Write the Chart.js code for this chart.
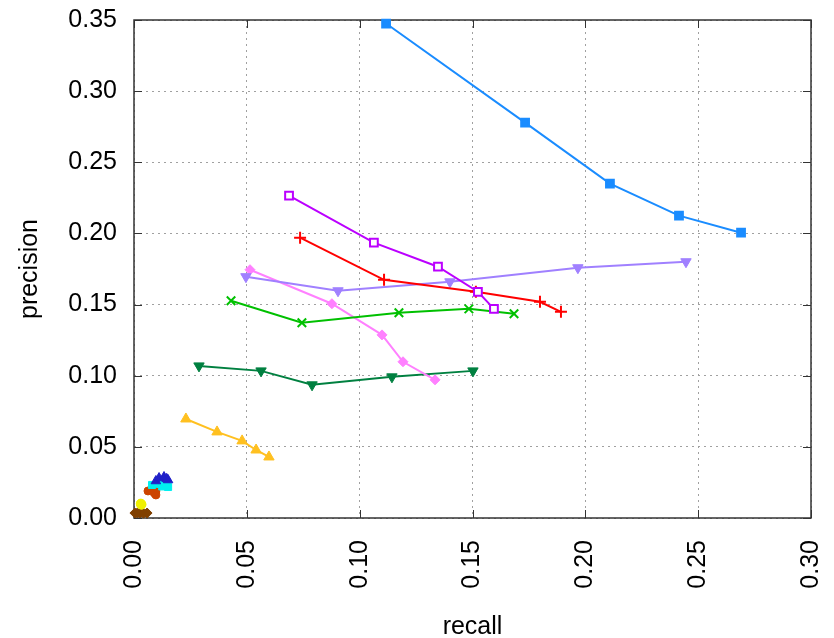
<!DOCTYPE html>
<html>
<head>
<meta charset="utf-8">
<script src="https://cdn.jsdelivr.net/npm/chart.js@4/dist/chart.umd.min.js"></script>
<style>
  html, body { margin: 0; padding: 0; background: #fff; }
  #wrap { width: 834px; height: 638px; }
</style>
</head>
<body>
<div id="wrap"><canvas id="myChart" width="834" height="638"></canvas></div>
<script>
// tick labels
var xTicks = [0.00, 0.05, 0.10, 0.15, 0.20, 0.25, 0.30];
var yTicks = [0.00, 0.05, 0.10, 0.15, 0.20, 0.25, 0.30, 0.35];

// series values (recall, precision)
var blueRecall = [0.1117, 0.1733, 0.2109, 0.2415, 0.2690];
var bluePrecision = [0.3475, 0.2779, 0.2350, 0.2125, 0.2005];
var purpleRecall = [0.0687, 0.1063, 0.1347, 0.1524, 0.1595];
var purplePrecision = [0.2265, 0.1935, 0.1766, 0.1590, 0.1470];
var redRecall = [0.0736, 0.1108, 0.1515, 0.1799, 0.1892];
var redPrecision = [0.1970, 0.1674, 0.1590, 0.1520, 0.1449];
var lavenderRecall = [0.0496, 0.0904, 0.1400, 0.1967, 0.2446];
var lavenderPrecision = [0.1696, 0.1597, 0.1660, 0.1759, 0.1801];
var greenRecall = [0.0430, 0.0744, 0.1174, 0.1484, 0.1684];
var greenPrecision = [0.1527, 0.1372, 0.1442, 0.1470, 0.1435];
var pinkRecall = [0.0514, 0.0877, 0.1099, 0.1192, 0.1334];
var pinkPrecision = [0.1745, 0.1506, 0.1287, 0.1098, 0.0971];
var darkGreenRecall = [0.0288, 0.0563, 0.0789, 0.1143, 0.1502];
var darkGreenPrecision = [0.1069, 0.1034, 0.0936, 0.0992, 0.1034];
var orangeRecall = [0.0230, 0.0368, 0.0479, 0.0541, 0.0598];
var orangePrecision = [0.0696, 0.0605, 0.0542, 0.0478, 0.0429];
var navyRecall = [0.0097, 0.0111, 0.0133, 0.0151, 0.0145];
var navyPrecision = [0.0260, 0.0281, 0.0288, 0.0267, 0.0275];
var cyanRecall = [0.0080, 0.0115, 0.0142, 0.0151, 0.0125];
var cyanPrecision = [0.0232, 0.0239, 0.0236, 0.0218, 0.0222];
var rustRecall = [0.0062, 0.0097, 0.0097, 0.0090, 0.0095];
var rustPrecision = [0.0190, 0.0190, 0.0162, 0.0175, 0.0182];
var yellowRecall = [0.0031, 0.0033, 0.0030, 0.0032, 0.0031];
var yellowPrecision = [0.0098, 0.0094, 0.0101, 0.0096, 0.0099];
var brownRecall = [0.0004, 0.0015, 0.0027, 0.0042, 0.0058];
var brownPrecision = [0.0035, 0.0036, 0.0035, 0.0034, 0.0035];

function pts(rs, ps) {
    return rs.map(function (r, i) { return { x: r, y: ps[i] }; });
}

function series(rs, ps, color, style, radius, extra) {
    var ds = {
        data: pts(rs, ps),
        showLine: true,
        borderColor: color,
        backgroundColor: color,
        borderWidth: 2,
        pointStyle: style,
        pointRadius: radius,
        pointBorderColor: color,
        pointBackgroundColor: color,
        pointBorderWidth: 1,
        clip: false
    };
    return Object.assign(ds, extra || {});
}

// 外框 + 內側刻度 (gnuplot 風格)
const framePlugin = {
    id: 'frame_ticks',
    beforeDatasetsDraw: (chart) => {
        const ctx = chart.ctx;
        const a = chart.chartArea;
        const xs = chart.scales.x, ys = chart.scales.y;
        const len = 8;
        ctx.save();
        ctx.strokeStyle = '#333333';
        ctx.lineWidth = 1.5;
        ctx.strokeRect(a.left, a.top, a.right - a.left, a.bottom - a.top);
        ctx.beginPath();
        xTicks.forEach(function (v) {
            var px = Math.round(xs.getPixelForValue(v)) + 0.5;
            ctx.moveTo(px, a.bottom); ctx.lineTo(px, a.bottom - len);
            ctx.moveTo(px, a.top); ctx.lineTo(px, a.top + len);
        });
        yTicks.forEach(function (v) {
            var py = Math.round(ys.getPixelForValue(v)) + 0.5;
            ctx.moveTo(a.left, py); ctx.lineTo(a.left + len, py);
            ctx.moveTo(a.right, py); ctx.lineTo(a.right - len, py);
        });
        ctx.lineWidth = 1;
        ctx.stroke();
        ctx.restore();
    }
};

var font = { family: 'Liberation Sans, Arial, sans-serif', size: 25 };

var ctx = document.getElementById('myChart');
var myChart = new Chart(ctx, {
    type: 'scatter',
    data: {
        datasets: [
            series(blueRecall, bluePrecision, '#1a8cff', 'rect', 5.5, { pointBorderWidth: 2 }),
            series(purpleRecall, purplePrecision, '#bb00ff', 'rect', 5.5, { pointBackgroundColor: '#ffffff', pointBorderWidth: 2 }),
            series(redRecall, redPrecision, '#ff0000', 'cross', 6, { pointBorderWidth: 2 }),
            series(lavenderRecall, lavenderPrecision, '#a080ff', 'triangle', 6, { pointRotation: 180 }),
            series(greenRecall, greenPrecision, '#00c000', 'crossRot', 6, { pointBorderWidth: 2 }),
            series(pinkRecall, pinkPrecision, '#ff80ff', 'rectRot', 5),
            series(darkGreenRecall, darkGreenPrecision, '#008040', 'triangle', 6, { pointRotation: 180 }),
            series(orangeRecall, orangePrecision, '#ffc020', 'triangle', 6),
            series(navyRecall, navyPrecision, '#2020c8', 'triangle', 5.5),
            series(cyanRecall, cyanPrecision, '#00f0f0', 'rect', 5),
            series(rustRecall, rustPrecision, '#cc4400', 'circle', 4),
            series(yellowRecall, yellowPrecision, '#f0f000', 'circle', 4.5),
            series(brownRecall, brownPrecision, '#804000', 'rectRot', 5)
        ]
    },
    options: {
        responsive: false,
        devicePixelRatio: 1,
        animation: false,
        events: [],
        layout: { padding: { top: 20, right: 23, left: 0, bottom: 0 } },
        plugins: {
            legend: { display: false },
            tooltip: { enabled: false }
        },
        scales: {
            x: {
                type: 'linear',
                min: 0,
                max: 0.30,
                afterBuildTicks: (s) => { s.ticks = xTicks.map(v => ({ value: v })); },
                afterFit: (s) => {
                    s.height = 120;
                    s.paddingLeft = 0; s.paddingRight = 0;
                },
                ticks: {
                    autoSkip: false,
                    minRotation: 90,
                    maxRotation: 90,
                    padding: 22,
                    color: '#000',
                    font: font,
                    callback: (v) => Number(v).toFixed(2)
                },
                grid: { color: '#a0a0a0', lineWidth: 1, drawTicks: false },
                border: { display: false, dash: [2, 4] },
                title: { display: true, text: 'recall', color: '#000', font: font, padding: { top: 0, bottom: -4 } }
            },
            y: {
                type: 'linear',
                min: 0,
                max: 0.35,
                afterBuildTicks: (s) => { s.ticks = yTicks.map(v => ({ value: v })); },
                afterFit: (s) => {
                    s.width = 134;
                    s.paddingTop = 0; s.paddingBottom = 0;
                },
                ticks: {
                    padding: 17,
                    color: '#000',
                    font: font,
                    callback: (v) => Number(v).toFixed(2)
                },
                grid: { color: '#a0a0a0', lineWidth: 1, drawTicks: false },
                border: { display: false, dash: [2, 4] },
                title: { display: true, text: 'precision', color: '#000', font: font, padding: { top: 15, bottom: 0 } }
            }
        }
    },
    plugins: [framePlugin]
});
</script>
</body>
</html>
